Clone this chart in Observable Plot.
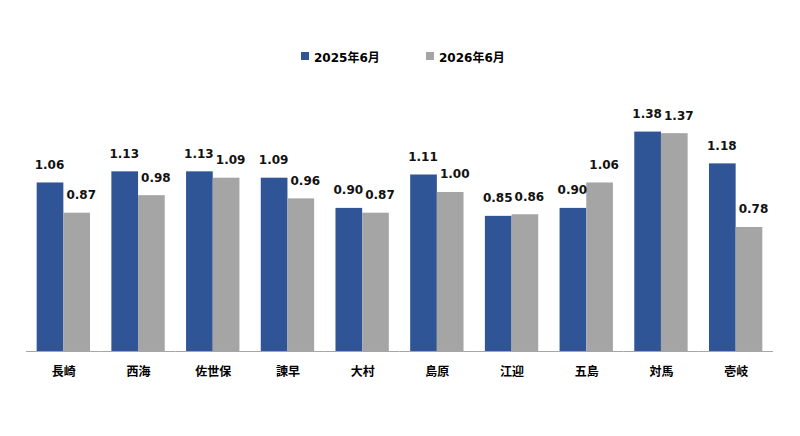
<!DOCTYPE html>
<html><head><meta charset="utf-8">
<script src="https://cdn.jsdelivr.net/npm/d3@7"></script>
<script src="https://cdn.jsdelivr.net/npm/@observablehq/plot@0.6"></script>
<style>
body{margin:0;background:#fff;}
#wrap{position:relative;width:800px;height:436px;font-family:"DejaVu Sans","Noto Sans CJK JP",sans-serif;}
.legend{position:absolute;top:48px;left:0;width:800px;height:16px;font-size:12px;font-weight:bold;color:#000;}
.item{position:absolute;top:0;display:flex;align-items:center;height:16px;white-space:nowrap;}
.sw{width:8px;height:8px;margin-right:5px;}
#wrap svg{position:absolute;left:0;top:0;}
</style></head><body><div id="wrap"></div>
<script>
const categories = ["長崎","西海","佐世保","諫早","大村","島原","江迎","五島","対馬","壱岐"];
const series = ["2025年6月","2026年6月"];
const v2025 = [1.06,1.13,1.13,1.09,0.90,1.11,0.85,0.90,1.38,1.18];
const v2026 = [0.87,0.98,1.09,0.96,0.87,1.00,0.86,1.06,1.37,0.78];
const colors = ["#2F5597","#A5A5A5"];

const data = categories.flatMap((c,i)=>[
  {cat:c, s:series[0], v:v2025[i]},
  {cat:c, s:series[1], v:v2026[i]}
]);

const font = '"DejaVu Sans","Noto Sans CJK JP",sans-serif';
const plot = Plot.plot({
  width:800, height:436,
  marginLeft:26, marginRight:27, marginTop:96.6, marginBottom:85,
  style:{fontFamily:font, background:"transparent"},
  fx:{domain:categories, padding:0, round:false, label:null, axis:null},
  x:{domain:series, paddingInner:0, paddingOuter:0.4, round:false, axis:null},
  y:{domain:[0,1.6], axis:null},
  color:{domain:series, range:colors},
  marks:[
    Plot.barY(data,{fx:"cat", x:"s", y:"v", fill:"s"}),
    Plot.ruleY([0],{stroke:"#A6A6A6", strokeWidth:1}),
    Plot.text(data.filter(d=>d.s===series[0]),{fx:"cat", x:"s", y:"v", text:d=>d.v.toFixed(2), dy:-18, dx:-1, fontWeight:"bold", fontSize:12, fill:"#111"}),
    Plot.text(data.filter(d=>d.s===series[1]),{fx:"cat", x:"s", y:"v", text:d=>d.v.toFixed(2), dy:-18, dx:4, fontWeight:"bold", fontSize:12, fill:"#111"}),
    Plot.axisFx({anchor:"bottom", tickSize:0, tickPadding:16, fontWeight:"bold", fontSize:12, fill:"#000", label:null})
  ]
});
const wrap = document.getElementById("wrap");
wrap.appendChild(plot);

const legend = document.createElement("div");
legend.className = "legend";
const lefts = [301, 426];
series.forEach((s,i)=>{
  const it = document.createElement("div");
  it.className = "item";
  it.style.left = lefts[i] + "px";
  const sw = document.createElement("span");
  sw.className = "sw";
  sw.style.background = colors[i];
  const t = document.createElement("span");
  t.textContent = s;
  it.appendChild(sw); it.appendChild(t);
  legend.appendChild(it);
});
wrap.appendChild(legend);
</script></body></html>
